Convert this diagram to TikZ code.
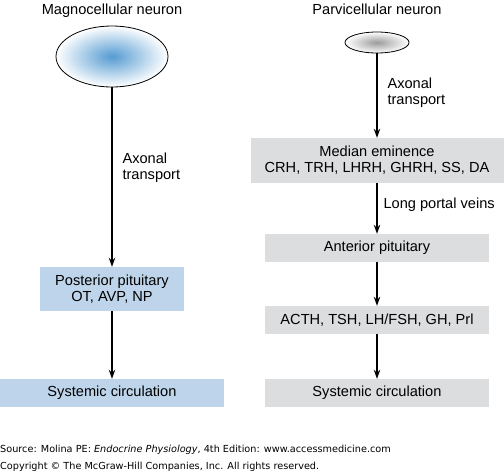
\documentclass[tikz,border=0pt]{standalone}
\usepackage{fontspec}
\setmainfont{Liberation Sans}
\newfontfamily\srcfont{DejaVu Sans}
\usetikzlibrary{shapes.geometric,arrows.meta}
\definecolor{cbluebox}{RGB}{189,212,234}
\definecolor{cgreybox}{RGB}{220,221,222}
\definecolor{cbluecell}{RGB}{85,155,210}
\definecolor{cgreycell}{RGB}{155,155,155}

\begin{document}
\begin{tikzpicture}[x=1pt,y=-1pt,
  every node/.style={font=\fontsize{14.6}{16}\selectfont},
  box/.style={inner sep=0pt,align=center,minimum height=28pt},
  cell/.style={ellipse,draw,line width=0.8pt,inner sep=0pt,outer color=white},
  lbl/.style={anchor=west,align=left,inner sep=0pt,xshift=10pt},
  flow/.style={-{Stealth[length=9pt,width=6.5pt]},line width=1.1pt}]
  \useasboundingbox (0,0) rectangle (504,472);
  % magnocellular pathway
  \node (tmagno) at (112,11) {Magnocellular neuron};
  \node[cell,inner color=cbluecell,minimum width=112pt,minimum height=61pt] (magno) at (112,56.5) {};
  \node[box,fill=cbluebox,minimum width=144pt,minimum height=44pt] (postpit) at (112,289) {Posterior pituitary\\OT, AVP, NP};
  \node[box,fill=cbluebox,minimum width=224pt] (sysL) at (112,393) {Systemic circulation};
  % parvicellular pathway
  \node (tparvo) at (377,9) {Parvicellular neuron};
  \node[cell,inner color=cgreycell,minimum width=64pt,minimum height=21pt] (parvo) at (377,42.5) {};
  \node[box,fill=cgreybox,minimum width=253pt,minimum height=45pt] (median) at (377,160.5) {Median eminence\\CRH, TRH, LHRH, GHRH, SS, DA};
  \node[box,fill=cgreybox,minimum width=224pt] (antpit) at (377,248) {Anterior pituitary};
  \node[box,fill=cgreybox,minimum width=224pt] (hormones) at (377,320) {ACTH, TSH, LH/FSH, GH, Prl};
  \node[box,fill=cgreybox,minimum width=224pt] (sysR) at (377,393) {Systemic circulation};
  % connectors
  \draw[flow] (magno) -- node[lbl,pos=0.45] {Axonal\\transport} (postpit);
  \draw[flow] (postpit) -- (sysL);
  \draw[flow] (parvo) -- node[lbl,pos=0.46] {Axonal\\transport} (median);
  \draw[flow] (median) -- node[lbl,pos=0.43,xshift=-4pt] {Long portal veins} (antpit);
  \draw[flow] (antpit) -- (hormones);
  \draw[flow] (hormones) -- (sysR);
  % source line
  \node[anchor=west,inner sep=0pt,font=\srcfont\fontsize{9.7}{18}\selectfont] (src) at (0,450) {Source: Molina PE: \textit{Endocrine Physiology}, 4th Edition: www.accessmedicine.com};
  \node[anchor=west,inner sep=0pt,font=\srcfont\fontsize{9.7}{18}\selectfont] (copy) at (0,467) {Copyright \copyright{} The McGraw-Hill Companies, Inc. All rights reserved.};
\end{tikzpicture}
\end{document}
